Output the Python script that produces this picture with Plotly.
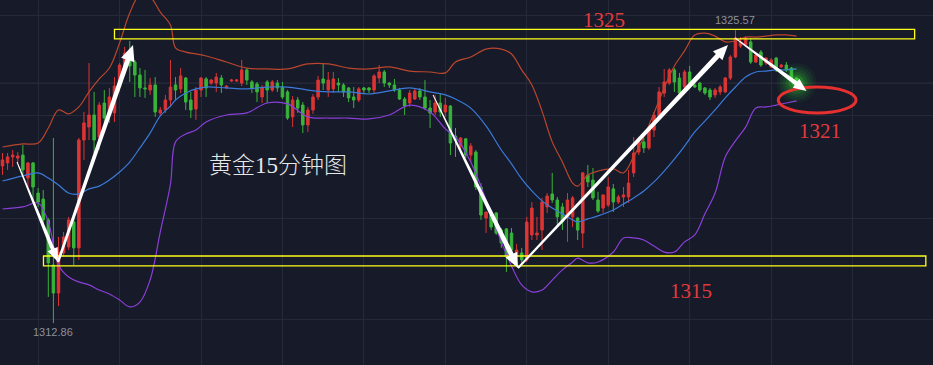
import plotly.graph_objects as go
import math

# ---------------- data (gold, 15-minute candles) ----------------
OPEN = [1319.65,1319.78,1320.04,1319.99,1320.12,1319.13,1319.78,1318.48,1318.22,1317.32,
        1315.37,1314.16,1315.89,1316.15,1317.23,1316.11,1320.77,1321.33,1321.85,1320.90,
        1322.37,1321.85,1321.94,1323.06,1323.88,1324.44,1324.14,1323.58,1323.02,1322.93,
        1323.15,1321.94,1322.07,1322.50,1323.15,1322.98,1323.45,1322.50,1322.11,1322.93,
        1323.41,1323.23,1323.23,1323.45,1323.02,1323.32,1323.32,1323.23,1323.80,1323.28,
        1323.19,1322.63,1323.28,1322.93,1323.23,1323.06,1322.85,1321.77,1322.50,1322.28,
        1321.42,1322.07,1322.63,1323.41,1322.93,1322.98,1323.23,1323.15,1323.02,1322.63,
        1322.50,1323.02,1323.02,1322.93,1323.45,1323.71,1323.23,1323.15,1322.93,1322.54,
        1322.37,1322.54,1322.89,1322.63,1322.15,1321.98,1322.37,1321.98,1322.24,1320.94,
        1320.51,1320.82,1320.12,1320.25,1318.74,1317.40,1317.53,1317.62,1316.88,1316.93,
        1316.75,1315.72,1315.89,1315.59,1316.67,1316.67,1316.88,1317.88,1318.44,1318.18,
        1317.88,1317.45,1317.45,1317.40,1316.75,1319.26,1319.04,1318.18,1317.83,1317.96,
        1318.66,1318.09,1318.31,1318.31,1319.35,1320.25,1320.69,1320.43,1321.20,1321.77,
        1322.80,1323.23,1323.80,1323.45,1323.06,1323.71,1323.15,1323.23,1323.02,1322.93,
        1322.72,1322.85,1322.85,1323.45,1324.36,1324.83,1324.88,1325.01,1324.14,1324.57,
        1324.10,1323.93,1324.31,1323.93,1324.01,1323.88,1323.45]
HIGH = [1320.21,1320.21,1320.34,1320.25,1320.56,1319.82,1319.82,1318.70,1318.61,1317.40,
        1320.86,1316.58,1316.80,1317.45,1317.40,1320.86,1321.98,1324.10,1322.85,1322.41,
        1322.93,1323.02,1323.49,1324.10,1324.79,1325.05,1324.23,1323.88,1323.80,1323.45,
        1323.49,1322.20,1322.72,1324.23,1323.49,1323.88,1323.49,1322.85,1323.06,1323.49,
        1323.49,1323.41,1323.67,1323.58,1323.15,1323.41,1323.41,1324.23,1323.88,1323.36,
        1323.28,1323.15,1323.36,1323.36,1323.36,1323.28,1322.93,1322.67,1322.63,1322.41,
        1322.20,1322.76,1323.54,1324.06,1323.71,1323.71,1323.45,1323.23,1323.06,1323.06,
        1323.06,1323.06,1323.06,1323.62,1324.01,1323.80,1323.28,1323.41,1323.02,1322.63,
        1322.93,1323.02,1323.02,1323.36,1322.50,1322.72,1322.80,1322.59,1322.28,1321.29,
        1320.90,1320.86,1320.64,1320.34,1318.91,1317.66,1317.62,1317.66,1316.97,1316.97,
        1316.97,1316.28,1316.11,1317.45,1318.09,1317.45,1318.27,1318.48,1319.35,1318.31,
        1318.05,1318.48,1318.35,1317.45,1319.39,1319.69,1319.56,1318.53,1318.40,1319.17,
        1318.87,1318.40,1318.74,1319.48,1320.90,1320.90,1320.86,1321.33,1321.98,1323.06,
        1323.84,1323.88,1323.88,1323.67,1323.80,1323.97,1323.23,1323.28,1323.06,1323.02,
        1323.02,1323.15,1323.49,1324.44,1325.57,1325.22,1325.26,1325.18,1324.53,1324.66,
        1324.36,1324.31,1324.36,1324.06,1324.14,1323.93,1323.49]
LOW = [1319.26,1319.48,1319.61,1319.78,1319.17,1318.74,1318.18,1317.88,1317.01,1313.99,
       1312.86,1313.60,1315.72,1316.02,1315.37,1315.59,1319.91,1320.77,1320.21,1320.34,
       1321.33,1321.51,1321.55,1322.85,1323.58,1323.28,1322.63,1322.63,1322.59,1322.72,
       1321.77,1321.81,1321.94,1322.20,1322.50,1322.80,1322.07,1321.72,1321.64,1322.63,
       1322.63,1323.15,1322.85,1322.80,1322.98,1323.28,1323.28,1323.10,1323.15,1322.80,
       1322.41,1322.37,1322.37,1322.85,1322.85,1322.54,1321.64,1321.33,1321.94,1321.07,
       1321.12,1321.90,1322.50,1322.93,1322.63,1322.80,1322.85,1322.63,1322.41,1322.15,
       1322.41,1322.80,1322.80,1322.80,1323.23,1323.06,1323.02,1322.85,1322.50,1321.85,
       1322.20,1322.50,1322.50,1322.07,1321.29,1321.85,1321.77,1321.77,1320.12,1320.04,
       1320.25,1319.99,1319.82,1318.61,1317.32,1316.75,1316.88,1316.67,1316.11,1315.07,
       1315.46,1315.37,1315.42,1315.50,1316.45,1316.45,1316.02,1317.62,1318.05,1317.01,
       1316.88,1316.37,1317.01,1316.45,1316.11,1318.74,1318.18,1317.62,1317.62,1317.88,
       1317.66,1318.01,1317.88,1318.05,1319.17,1320.12,1320.21,1320.34,1320.90,1321.64,
       1322.63,1323.15,1322.85,1322.72,1323.02,1323.15,1323.02,1322.85,1322.72,1322.50,
       1322.59,1322.72,1322.80,1323.36,1324.31,1324.75,1324.79,1324.06,1324.10,1323.93,
       1324.01,1323.88,1323.71,1323.88,1323.71,1323.36,1323.19]
CLOSE = [1319.91,1320.04,1320.12,1320.08,1319.48,1319.78,1318.74,1318.09,1317.32,1315.46,
         1314.16,1315.93,1316.58,1317.32,1316.11,1320.77,1321.51,1321.85,1320.77,1322.28,
         1321.72,1322.63,1323.10,1324.01,1324.53,1323.97,1323.58,1323.02,1322.98,1323.15,
         1321.98,1322.07,1322.50,1323.06,1322.93,1323.54,1322.41,1322.07,1322.93,1323.45,
         1323.02,1323.36,1323.49,1323.15,1323.10,1323.36,1323.36,1323.80,1323.36,1323.02,
         1322.85,1323.02,1322.93,1323.28,1323.02,1322.63,1321.72,1322.50,1322.15,1321.42,
         1322.07,1322.63,1323.36,1323.23,1323.36,1323.41,1323.15,1322.85,1322.59,1322.50,
         1322.98,1322.93,1322.93,1323.54,1323.71,1323.23,1323.15,1322.93,1322.54,1322.24,
         1322.80,1322.89,1322.63,1322.15,1321.94,1322.37,1321.98,1322.28,1320.64,1320.77,
         1320.86,1320.12,1320.51,1318.74,1317.53,1317.66,1317.01,1316.75,1316.32,1315.72,
         1316.02,1316.02,1315.59,1317.23,1317.83,1316.75,1318.09,1318.35,1318.18,1317.45,
         1317.23,1318.18,1318.27,1316.88,1319.35,1318.96,1318.27,1317.70,1318.40,1318.74,
         1318.09,1318.31,1318.40,1318.91,1320.21,1320.69,1320.43,1321.20,1321.85,1322.85,
         1323.28,1323.80,1323.28,1322.80,1323.71,1323.23,1323.06,1322.93,1322.80,1322.63,
         1322.93,1323.06,1323.45,1324.36,1325.18,1325.01,1325.18,1324.14,1324.44,1324.01,
         1324.31,1324.23,1323.80,1324.01,1323.80,1323.45,1323.23]
CANDLE_IDX = list(range(len(CLOSE)))

# Bollinger band readings (candle index, price)
BB_IDX = [0,4,7,9,11,13,15,17,19,21,23,25,27,29,31,33,34,36,38,40,
          44,48,52,56,60,64,68,72,76,80,84,87,89,92,95,98,100,102,104,106,
          108,110,112,113,115,117,120,122,124,126,128,130,132,134,136,138,140,142,144,146,
          148,150,152,154,156]
BB_UP = [1320.47,1320.60,1320.64,1321.29,1322.07,1321.90,1322.20,1322.85,1323.41,1323.88,
         1324.96,1326.26,1327.04,1326.95,1326.30,1325.74,1324.75,1324.57,1324.49,1324.40,
         1324.14,1323.88,1323.84,1323.84,1324.06,1324.06,1323.88,1323.84,1323.93,1323.75,
         1323.71,1323.67,1324.14,1324.36,1324.70,1324.70,1324.49,1323.80,1323.15,1322.02,
         1320.69,1319.82,1318.91,1318.78,1319.26,1319.43,1319.52,1319.35,1320.04,1320.90,
         1321.94,1323.02,1323.97,1324.62,1325.31,1325.39,1325.26,1325.01,1325.05,1325.22,
         1325.22,1325.26,1325.31,1325.31,1325.26]
BB_MID = [1319.00,1319.22,1319.35,1319.13,1318.83,1318.48,1318.44,1318.66,1318.78,1319.04,
          1319.39,1319.82,1320.43,1321.07,1321.81,1322.24,1322.50,1322.80,1322.98,1323.06,
          1323.02,1322.98,1323.06,1323.06,1322.93,1322.85,1322.85,1322.76,1322.89,1323.02,
          1322.85,1322.72,1322.54,1322.15,1321.38,1320.34,1319.74,1319.09,1318.57,1318.14,
          1317.83,1317.58,1317.32,1317.23,1317.36,1317.49,1317.75,1318.01,1318.27,1318.57,
          1318.96,1319.43,1319.95,1320.51,1321.12,1321.59,1322.07,1322.59,1323.06,1323.49,
          1323.71,1323.75,1323.80,1323.80,1323.84]
BB_LOW = [1317.79,1317.88,1318.05,1317.23,1315.37,1314.85,1314.64,1314.51,1314.29,1314.12,
          1313.86,1313.56,1313.77,1314.72,1316.80,1318.87,1320.69,1321.03,1321.20,1321.55,
          1321.85,1321.94,1322.37,1322.33,1321.77,1321.72,1321.72,1321.68,1321.85,1322.28,
          1321.98,1321.25,1320.90,1319.82,1318.18,1316.37,1315.33,1314.51,1314.21,1314.29,
          1314.72,1315.16,1315.50,1315.67,1315.46,1315.50,1315.93,1316.54,1316.54,1316.45,
          1316.19,1315.93,1315.93,1316.37,1316.67,1317.58,1318.48,1320.04,1320.73,1321.33,
          1322.15,1322.20,1322.28,1322.37,1322.46]

# annotation levels / texts
LEVEL_TEXTS = ["1325", "1321", "1315"]
TITLE_TEXT = "黄金15分钟图"
GRID_IDX = [7 + 16 * k for k in range(11)]
GRID_PRICES = [1326.17, 1321.81, 1317.40, 1313.00]

# ---------------- layout helpers ----------------
W, H = 933, 365
XR = [-0.491, 182.81]
YR = [1311.05, 1326.82]
BG = "#161a29"
GRID = "#252a3a"
RED = "#dd3434"
GREEN = "#39b43a"


def to_px(i, p):
    return ((i - XR[0]) / (XR[1] - XR[0]) * W, (YR[1] - p) / (YR[1] - YR[0]) * H)


def to_data(x, y):
    return (XR[0] + x / W * (XR[1] - XR[0]), YR[1] - y / H * (YR[1] - YR[0]))


def arrow_path(i0, p0, i1, p1, w0, w1, head_len, head_half):
    x0, y0 = to_px(i0, p0)
    x1, y1 = to_px(i1, p1)
    dx, dy = x1 - x0, y1 - y0
    L = math.hypot(dx, dy)
    ux, uy = dx / L, dy / L
    nx, ny = -uy, ux
    nxk, nyk = x1 - ux * head_len, y1 - uy * head_len
    pts = [
        (x0 + nx * w0 / 2, y0 + ny * w0 / 2),
        (nxk + nx * w1 / 2, nyk + ny * w1 / 2),
        (nxk + nx * head_half, nyk + ny * head_half),
        (x1, y1),
        (nxk - nx * head_half, nyk - ny * head_half),
        (nxk - nx * w1 / 2, nyk - ny * w1 / 2),
        (x0 - nx * w0 / 2, y0 - ny * w0 / 2),
    ]
    d = []
    for k, (x, y) in enumerate(pts):
        a, b = to_data(x, y)
        d.append(("M" if k == 0 else "L") + f"{a:.4f},{b:.4f}")
    return " ".join(d) + " Z"


fig = go.Figure()

band_style = dict(mode="lines", hoverinfo="skip", showlegend=False, line_shape="spline")
fig.add_trace(go.Scatter(x=BB_IDX, y=BB_UP, line=dict(color="#b9462d", width=1.2), **band_style))
fig.add_trace(go.Scatter(x=BB_IDX, y=BB_MID, line=dict(color="#3b7ad9", width=1.2), **band_style))
fig.add_trace(go.Scatter(x=BB_IDX, y=BB_LOW, line=dict(color="#8b3fd9", width=1.2), **band_style))

# glow behind the latest candle
last_i, last_p = CANDLE_IDX[-1], CLOSE[-1]
for size, alpha in [(40, 0.05), (34, 0.07), (28, 0.09), (22, 0.13), (16, 0.2), (10, 0.32)]:
    fig.add_trace(go.Scatter(x=[last_i], y=[last_p], mode="markers", hoverinfo="skip",
                             showlegend=False,
                             marker=dict(size=size, color=f"rgba(60,235,50,{alpha})", line=dict(width=0))))

fig.add_trace(go.Candlestick(
    x=CANDLE_IDX, open=OPEN, high=HIGH, low=LOW, close=CLOSE,
    increasing=dict(line=dict(color=RED, width=1), fillcolor=RED),
    decreasing=dict(line=dict(color=GREEN, width=1), fillcolor=GREEN),
    whiskerwidth=0, hoverinfo="skip", showlegend=False,
))

shapes = []
# current price line
shapes.append(dict(type="line", xref="paper", x0=0, x1=1, yref="y", y0=last_p, y1=last_p,
                   line=dict(color="#2c3142", width=1), layer="below"))
# yellow level boxes
shapes.append(dict(type="rect", xref="x", yref="y", x0=22.0, x1=179.2, y0=1325.14, y1=1325.55,
                   line=dict(color="#ffff1a", width=1.3)))
shapes.append(dict(type="rect", xref="x", yref="y", x0=8.05, x1=181.4, y0=1315.33, y1=1315.76,
                   line=dict(color="#ffff1a", width=1.3)))
# red ellipse
shapes.append(dict(type="circle", xref="x", yref="y", x0=152.4, x1=167.7, y0=1321.94, y1=1323.06,
                   line=dict(color="#e8302f", width=3)))
# white arrows
ARROWS = [
    (2.85, 1319.82, 10.9, 1315.50, 1.0, 4.0, 14, 5.5),
    (10.9, 1315.50, 25.64, 1324.88, 2.5, 5.0, 16, 7),
    (84.58, 1322.72, 101.28, 1315.24, 1.0, 5.0, 15, 6.5),
    (101.28, 1315.24, 142.53, 1324.88, 2.0, 5.0, 15, 6.5),
    (143.9, 1325.18, 157.96, 1322.89, 1.0, 4.5, 13, 5.5),
]
for a in ARROWS:
    shapes.append(dict(type="path", xref="x", yref="y", path=arrow_path(*a),
                       fillcolor="#ffffff", line=dict(width=0)))

annotations = []
serif = "Liberation Serif, DejaVu Serif, serif"
annotations.append(dict(x=118.2, y=1325.96, text=LEVEL_TEXTS[0], showarrow=False,
                        font=dict(family=serif, size=21, color="#e23b3b")))
annotations.append(dict(x=160.6, y=1321.16, text=LEVEL_TEXTS[1], showarrow=False,
                        font=dict(family=serif, size=21, color="#e23b3b")))
annotations.append(dict(x=135.3, y=1314.25, text=LEVEL_TEXTS[2], showarrow=False,
                        font=dict(family=serif, size=21, color="#e23b3b")))
annotations.append(dict(x=54.1, y=1319.69, text=TITLE_TEXT, showarrow=False,
                        font=dict(family="Liberation Serif, Noto Sans CJK SC", size=23,
                                  color="#e8e8e8", weight=300)))
# high / low price labels
hi_i = max(CANDLE_IDX, key=lambda k: HIGH[k])
lo_i = min(CANDLE_IDX, key=lambda k: LOW[k])
annotations.append(dict(x=hi_i, y=HIGH[hi_i], text=f"{HIGH[hi_i]:.2f}", showarrow=False, yshift=9,
                        font=dict(family="Liberation Sans, Arial", size=11, color="#8d919c")))
annotations.append(dict(x=lo_i, y=LOW[lo_i], text=f"{LOW[lo_i]:.2f}", showarrow=False, yshift=-9,
                        font=dict(family="Liberation Sans, Arial", size=11, color="#8d919c")))

fig.update_layout(
    width=W, height=H, autosize=False,
    margin=dict(l=0, r=0, t=0, b=0, pad=0),
    paper_bgcolor=BG, plot_bgcolor=BG,
    shapes=shapes, annotations=annotations,
    showlegend=False, hovermode=False,
    xaxis=dict(range=XR, tickvals=GRID_IDX, showticklabels=False, showgrid=True, gridcolor=GRID,
               gridwidth=1, zeroline=False, showline=False, rangeslider=dict(visible=False), fixedrange=True),
    yaxis=dict(range=YR, tickvals=GRID_PRICES, showticklabels=False, showgrid=True, gridcolor=GRID,
               gridwidth=1, zeroline=False, showline=False, fixedrange=True),
)

fig.write_html("out.html", config={"displayModeBar": False, "staticPlot": True},
               post_script="document.body.style.margin='0';document.body.style.background='" + BG + "';")
